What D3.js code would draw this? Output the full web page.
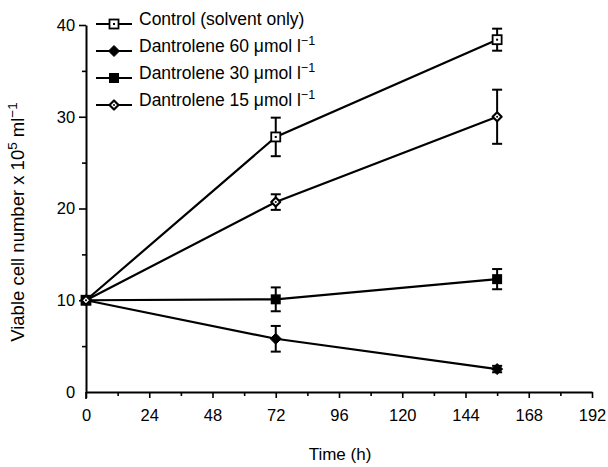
<!DOCTYPE html>
<html>
<head>
<meta charset="utf-8">
<script src="https://cdn.jsdelivr.net/npm/d3@7"></script>
<style>
  body { margin: 0; background: #fff; }
  svg { font-family: "Liberation Sans", Arial, Helvetica, sans-serif; }
</style>
</head>
<body>
<script>
  // data
  var times = [0, 72, 156];
  var seriesNames = ["Control (solvent only)", "Dantrolene 60 \u03bcmol l", "Dantrolene 30 \u03bcmol l", "Dantrolene 15 \u03bcmol l"];
  var control = [10, 27.8, 38.4];
  var controlErr = [0, 2.1, 1.2];
  var dan60 = [10, 5.8, 2.5];
  var dan60Err = [0, 1.4, 0.35];
  var dan30 = [10, 10.1, 12.3];
  var dan30Err = [0, 1.3, 1.1];
  var dan15 = [10, 20.7, 30.0];
  var dan15Err = [0, 0.85, 2.95];
  var xTicks = [0, 24, 48, 72, 96, 120, 144, 168, 192];
  var yTicks = [0, 10, 20, 30, 40];

  var W = 608, H = 467;
  var svg = d3.select("body").append("svg")
    .attr("width", W)
    .attr("height", H);

  var x = d3.scaleLinear().domain([0, 192]).range([86, 592]);
  var y = d3.scaleLinear().domain([0, 40]).range([392, 25]);

  // minor ticks first
  svg.append("g")
    .attr("transform", "translate(0,392)")
    .call(d3.axisBottom(x).tickValues(d3.range(12, 192, 24)).tickSize(4).tickFormat(""))
    .call(function(g){ g.select(".domain").remove(); });
  svg.append("g")
    .attr("transform", "translate(86,0)")
    .call(d3.axisLeft(y).tickValues([5, 15, 25, 35]).tickSize(4).tickFormat(""))
    .call(function(g){ g.select(".domain").remove(); });

  var xAxis = svg.append("g")
    .attr("transform", "translate(0,392)")
    .call(d3.axisBottom(x).tickValues(xTicks).tickSize(6).tickSizeOuter(0));
  var yAxis = svg.append("g")
    .attr("transform", "translate(86,0)")
    .call(d3.axisLeft(y).tickValues(yTicks).tickSize(7).tickSizeOuter(0));

  svg.selectAll(".domain").attr("stroke-width", 2);
  svg.selectAll(".tick line").attr("stroke-width", 1.6);
  xAxis.selectAll("text").attr("font-size", 16.5).attr("dy", "1.2em").attr("font-family", "Liberation Sans, Arial");
  yAxis.selectAll("text").attr("font-size", 16.5).attr("dx", "-0.05em").attr("font-family", "Liberation Sans, Arial");
  // 0 tick crosses the axis
  yAxis.select(".tick line").attr("x2", 0);
  svg.append("line").attr("x1", 86).attr("x2", 86).attr("y1", 392).attr("y2", 399)
    .attr("stroke", "#000").attr("stroke-width", 1.6);

  svg.append("text")
    .attr("x", 340).attr("y", 460)
    .attr("text-anchor", "middle")
    .attr("font-size", 17)
    .text("Time (h)");

  var yt = svg.append("text")
    .attr("transform", "translate(24,222) rotate(-90)")
    .attr("text-anchor", "middle")
    .attr("font-size", 18.5);
  yt.append("tspan").text("Viable cell number x 10");
  yt.append("tspan").attr("dy", -7).attr("font-size", 13.5).text("5");
  yt.append("tspan").attr("dy", 7).text(" ml");
  yt.append("tspan").attr("dy", -7).attr("font-size", 13.5).text("\u22121");

  var series = [
    { vals: control, err: controlErr, mark: "osq" },
    { vals: dan60, err: dan60Err, mark: "fdia" },
    { vals: dan30, err: dan30Err, mark: "fsq" },
    { vals: dan15, err: dan15Err, mark: "odia" }
  ];

  var line = d3.line()
    .x(function(d, i){ return x(times[i]); })
    .y(function(d){ return y(d); });

  function diamond(r) {
    return "M0," + (-r) + "L" + r + ",0L0," + r + "L" + (-r) + ",0Z";
  }

  function drawMarker(g, type, cx, cy) {
    if (type === "osq") {
      g.append("rect").attr("x", cx - 4.5).attr("y", cy - 4.5).attr("width", 9).attr("height", 9)
        .attr("fill", "#fff").attr("stroke", "#000").attr("stroke-width", 1.8);
      g.append("rect").attr("x", cx - 1).attr("y", cy - 1).attr("width", 2).attr("height", 2).attr("fill", "#000");
    } else if (type === "fsq") {
      g.append("rect").attr("x", cx - 5).attr("y", cy - 5).attr("width", 10).attr("height", 10).attr("fill", "#000");
    } else if (type === "fdia") {
      g.append("path").attr("d", diamond(5.5)).attr("transform", "translate(" + cx + "," + cy + ")")
        .attr("fill", "#000").attr("stroke", "#000").attr("stroke-width", 1).attr("stroke-linejoin", "round");
    } else {
      g.append("path").attr("d", diamond(4.5)).attr("transform", "translate(" + cx + "," + cy + ")")
        .attr("fill", "#fff").attr("stroke", "#000").attr("stroke-width", 2.2).attr("stroke-linejoin", "round");
      g.append("circle").attr("cx", cx).attr("cy", cy).attr("r", 1).attr("fill", "#000");
    }
  }

  series.forEach(function(s){
    svg.append("path")
      .datum(s.vals)
      .attr("d", line)
      .attr("fill", "none")
      .attr("stroke", "#000")
      .attr("stroke-width", 2.2);
  });

  series.forEach(function(s){
    var g = svg.append("g");
    s.vals.forEach(function(v, i){
      var cx = x(times[i]);
      if (s.err[i] > 0) {
        var y0 = y(v + s.err[i]), y1 = y(v - s.err[i]);
        g.append("line").attr("x1", cx).attr("x2", cx).attr("y1", y0).attr("y2", y1)
          .attr("stroke", "#000").attr("stroke-width", 2);
        [y0, y1].forEach(function(yy){
          g.append("line").attr("x1", cx - 5).attr("x2", cx + 5).attr("y1", yy).attr("y2", yy)
            .attr("stroke", "#000").attr("stroke-width", 2);
        });
      }
      drawMarker(g, s.mark, cx, y(v));
    });
  });

  // legend
  var legY = [24, 51, 78, 105];
  series.forEach(function(s, i){
    var g = svg.append("g");
    g.append("line").attr("x1", 96).attr("x2", 132).attr("y1", legY[i]).attr("y2", legY[i])
      .attr("stroke", "#000").attr("stroke-width", 1.8);
    drawMarker(g, s.mark, 114, legY[i]);
    var t = g.append("text").attr("x", 139).attr("y", legY[i] + 1).attr("font-size", 17.5)
      .text(seriesNames[i]);
    if (i > 0) t.append("tspan").attr("dy", -7).attr("font-size", 12.5).text("\u22121");
  });
</script>
</body>
</html>
